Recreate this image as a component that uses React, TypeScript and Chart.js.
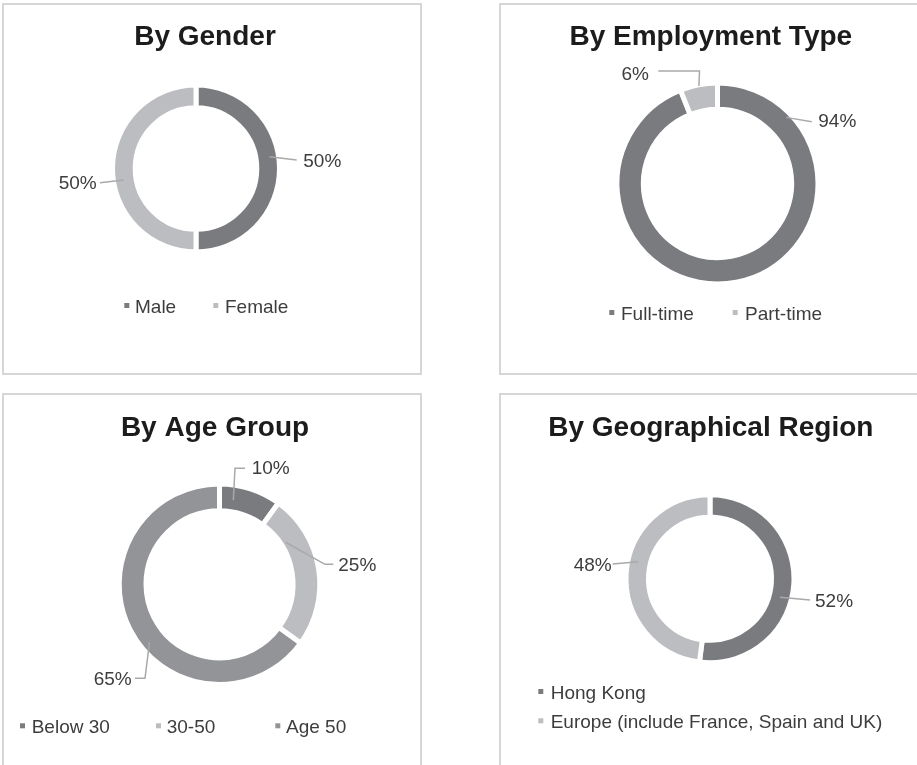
import React, { useEffect, useRef } from "react";
import { Chart, registerables } from "chart.js";

Chart.register(...registerables);

// ---------- data ----------
const genderLabels = ["Male", "Female"];
const genderValues = [50, 50];

const employmentLabels = ["Full-time", "Part-time"];
const employmentValues = [94, 6];

const ageLabels = ["Below 30", "30-50", "Age 50"];
const ageValues = [10, 25, 65];

const regionLabels = ["Hong Kong", "Europe (include France, Spain and UK)"];
const regionValues = [52, 48];

const panelTitles = ["By Gender", "By Employment Type", "By Age Group", "By Geographical Region"];

// ---------- styles ----------
const DARK = "#7a7b7f";
const LIGHT = "#bcbdc1";
const MID = "#939498";
const FONT = '"Liberation Sans", Arial, Helvetica, sans-serif';
const GAP = 5;

type LabelCfg = {
  at: number;
  rf: number;
  tx: number;
  ty: number;
  align: CanvasTextAlign;
  path: [number, number][];
};
type LegendCfg = { mx: number; tx: number; y: number };
type PanelCfg = {
  box: { x: number; y: number; w: number; h: number };
  cx: number;
  cy: number;
  ro: number;
  ri: number;
  title: string;
  titlePos: { x: number; y: number };
  labels: string[];
  values: number[];
  colors: string[];
  dataLabels: LabelCfg[];
  legend: LegendCfg[];
};

const panels: PanelCfg[] = [
  {
    box: { x: 2, y: 3, w: 420, h: 372 },
    cx: 196, cy: 168.5, ro: 81, ri: 63.3,
    title: panelTitles[0],
    titlePos: { x: 205, y: 45 },
    labels: genderLabels,
    values: genderValues,
    colors: [DARK, LIGHT],
    dataLabels: [
      { at: 0.45, rf: 0.6, tx: 107.3, ty: -1.8, align: "left", path: [[100.7, -8.5]] },
      { at: 0.45, rf: 0.55, tx: -99.3, ty: 20.8, align: "right", path: [[-96, 14.2]] },
    ],
    legend: [
      { mx: 124.3, tx: 135, y: 313 },
      { mx: 213.3, tx: 225, y: 313 },
    ],
  },
  {
    box: { x: 499, y: 3, w: 430, h: 372 },
    cx: 717.5, cy: 183.5, ro: 98, ri: 76.7,
    title: panelTitles[1],
    titlePos: { x: 710.8, y: 45 },
    labels: employmentLabels,
    values: employmentValues,
    colors: [DARK, LIGHT],
    dataLabels: [
      { at: 0.136, rf: 0.8, tx: 100.8, ty: -56.2, align: "left", path: [[94.2, -61.8]] },
      { at: 0.5, rf: 0.95, tx: -68.5, ty: -103.5, align: "right", path: [[-18, -112.5], [-59.2, -112.5]] },
    ],
    legend: [
      { mx: 609.3, tx: 621, y: 320 },
      { mx: 732.7, tx: 745, y: 320 },
    ],
  },
  {
    box: { x: 2, y: 393, w: 420, h: 380 },
    cx: 219.5, cy: 584.2, ro: 97.8, ri: 76,
    title: panelTitles[2],
    titlePos: { x: 215, y: 435.7 },
    labels: ageLabels,
    values: ageValues,
    colors: [DARK, LIGHT, MID],
    dataLabels: [
      { at: 0.26, rf: 0.43, tx: 32.2, ty: -109.9, align: "left", path: [[15.5, -115.9], [25.5, -115.9]] },
      { at: 0.24, rf: 0.18, tx: 118.8, ty: -13.2, align: "left", path: [[105.5, -19.9], [113.8, -19.9]] },
      { at: 0.446, rf: 0.65, tx: -87.8, ty: 100.8, align: "right", path: [[-74.5, 94.1], [-84.5, 94.1]] },
    ],
    legend: [
      { mx: 20, tx: 31.7, y: 733.3 },
      { mx: 156, tx: 166.7, y: 733.3 },
      { mx: 275.3, tx: 286, y: 733.3 },
    ],
  },
  {
    box: { x: 499, y: 393, w: 430, h: 380 },
    cx: 710, cy: 578.7, ro: 81.5, ri: 64,
    title: panelTitles[3],
    titlePos: { x: 710.8, y: 436 },
    labels: regionLabels,
    values: regionValues,
    colors: [DARK, LIGHT],
    dataLabels: [
      { at: 0.56, rf: 0.48, tx: 105, ty: 28, align: "left", path: [[100, 21.3]] },
      { at: 0.556, rf: 0.55, tx: -98.3, ty: -8, align: "right", path: [[-97.3, -14.7]] },
    ],
    legend: [
      { mx: 538.3, tx: 550.7, y: 699 },
      { mx: 538.3, tx: 550.7, y: 728.3 },
    ],
  },
];

function DonutPanel({ cfg }: { cfg: PanelCfg }) {
  const ref = useRef<HTMLCanvasElement | null>(null);
  const cw = Math.min(cfg.box.w, 917 - cfg.box.x);
  const ch = Math.min(cfg.box.h, 765 - cfg.box.y);

  useEffect(() => {
    if (!ref.current) return;
    const bx = cfg.box.x;
    const by = cfg.box.y;
    const outerR = cfg.ro + GAP / 2;
    const innerR = cfg.ri - GAP / 2;
    const side = 2 * outerR + GAP;
    const lcx = cfg.cx - bx;
    const lcy = cfg.cy - by;
    const padding = {
      left: lcx - side / 2,
      right: cw - (lcx + side / 2),
      top: lcy - side / 2,
      bottom: ch - (lcy + side / 2),
    };

    const overlay = {
      id: "overlay",
      afterDraw(chart: any) {
        const ctx: CanvasRenderingContext2D = chart.ctx;
        ctx.save();
        // title
        ctx.font = `bold 28px ${FONT}`;
        ctx.fillStyle = "#1c1c1c";
        ctx.textAlign = "center";
        ctx.textBaseline = "alphabetic";
        ctx.fillText(cfg.title, cfg.titlePos.x - bx, cfg.titlePos.y - by);

        // data labels with leader lines
        const meta = chart.getDatasetMeta(0);
        const vals: number[] = chart.data.datasets[0].data;
        meta.data.forEach((arc: any, i: number) => {
          const lc = cfg.dataLabels[i];
          if (!lc) return;
          const p = arc.getProps(["x", "y", "startAngle", "endAngle", "innerRadius", "outerRadius"], true);
          const a = p.startAngle + lc.at * (p.endAngle - p.startAngle);
          const r = p.innerRadius + lc.rf * (p.outerRadius - p.innerRadius);
          ctx.beginPath();
          ctx.moveTo(p.x + r * Math.cos(a), p.y + r * Math.sin(a));
          lc.path.forEach(([dx, dy]) => ctx.lineTo(p.x + dx, p.y + dy));
          ctx.strokeStyle = "#a9a9a9";
          ctx.lineWidth = 1.5;
          ctx.stroke();
          ctx.font = `19px ${FONT}`;
          ctx.fillStyle = "#3d3d3d";
          ctx.textAlign = lc.align;
          ctx.textBaseline = "alphabetic";
          ctx.fillText(`${vals[i]}%`, p.x + lc.tx, p.y + lc.ty);
        });

        // legend
        const labels: string[] = chart.data.labels;
        const colors: string[] = chart.data.datasets[0].backgroundColor;
        cfg.legend.forEach((lg, i) => {
          ctx.fillStyle = colors[i];
          ctx.fillRect(lg.mx - bx, lg.y - by - 10, 5, 5);
          ctx.font = `19px ${FONT}`;
          ctx.fillStyle = "#3d3d3d";
          ctx.textAlign = "left";
          ctx.textBaseline = "alphabetic";
          ctx.fillText(labels[i], lg.tx - bx, lg.y - by);
        });
        ctx.restore();
      },
    };

    const chart = new Chart(ref.current, {
      type: "doughnut",
      data: {
        labels: cfg.labels,
        datasets: [
          {
            data: cfg.values,
            backgroundColor: cfg.colors,
            borderColor: "#ffffff",
            borderWidth: GAP,
            borderJoinStyle: "miter",
            hoverOffset: 0,
          } as any,
        ],
      },
      options: {
        animation: false,
        responsive: false,
        devicePixelRatio: 1,
        events: [],
        radius: outerR,
        cutout: `${(innerR / outerR) * 100}%`,
        layout: { padding },
        plugins: {
          legend: { display: false },
          title: { display: false },
          tooltip: { enabled: false },
        },
      } as any,
      plugins: [overlay],
    });
    return () => chart.destroy();
  }, [cfg, cw, ch]);

  return (
    <>
      <div
        style={{
          position: "absolute",
          left: cfg.box.x,
          top: cfg.box.y,
          width: cfg.box.w,
          height: cfg.box.h,
          border: "2px solid #d6d6d6",
          boxSizing: "border-box",
        }}
      />
      <canvas
        ref={ref}
        width={cw}
        height={ch}
        style={{ position: "absolute", left: cfg.box.x, top: cfg.box.y, width: cw, height: ch }}
      />
    </>
  );
}

export default function App() {
  return (
    <div
      style={{
        position: "fixed",
        left: 0,
        top: 0,
        width: 917,
        height: 765,
        overflow: "hidden",
        background: "#ffffff",
      }}
    >
      {panels.map((p, i) => (
        <DonutPanel key={i} cfg={p} />
      ))}
    </div>
  );
}
